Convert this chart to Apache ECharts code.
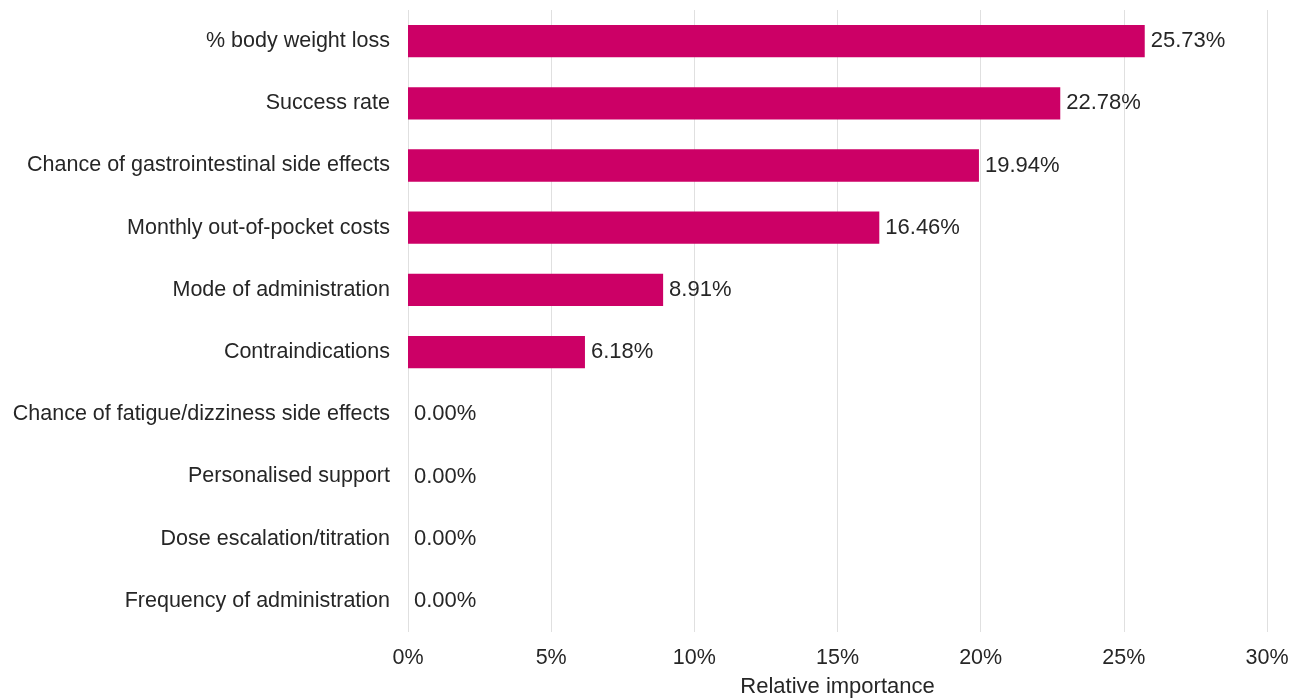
<!DOCTYPE html>
<html><head><meta charset="utf-8">
<script src="https://cdn.jsdelivr.net/npm/echarts@6/dist/echarts.min.js"></script>
<style>html,body{margin:0;padding:0;background:#fff}#c{width:1291px;height:698px}</style>
</head><body><div id="c"></div>
<script>
const categories = ["% body weight loss","Success rate","Chance of gastrointestinal side effects","Monthly out-of-pocket costs","Mode of administration","Contraindications","Chance of fatigue/dizziness side effects","Personalised support","Dose escalation/titration","Frequency of administration"];
const values = [25.73,22.78,19.94,16.46,8.91,6.18,0.00,0.00,0.00,0.00];
const xTicks = [0,5,10,15,20,25,30];
const FONT = "'Liberation Sans', Arial, sans-serif";
const chart = echarts.init(document.getElementById('c'));
chart.setOption({
  animation:false,
  grid:{left:408,right:24,top:10,bottom:66,containLabel:false,outerBoundsMode:'none'},
  xAxis:{type:'value',min:0,max:30,interval:5,
    name:'Relative importance',nameLocation:'middle',nameGap:44,
    nameTextStyle:{fontFamily:FONT,fontSize:22,color:'#262626'},
    axisLine:{show:false},axisTick:{show:false},
    axisLabel:{formatter:v=>xTicks.includes(v)?v+'%':'',fontFamily:FONT,fontSize:21.5,color:'#262626',margin:15},
    splitLine:{show:true,lineStyle:{color:'#e0e0e0',width:1}}},
  yAxis:{type:'category',data:categories,inverse:true,
    axisLine:{show:false},axisTick:{show:false},
    axisLabel:{fontFamily:FONT,fontSize:21.5,color:'#262626',margin:18},
    splitLine:{show:false}},
  series:[{type:'bar',data:values,barCategoryGap:'48%',
    itemStyle:{color:'#CC0066'},
    label:{show:true,position:'right',distance:6,formatter:p=>p.value.toFixed(2)+'%',
      fontFamily:FONT,fontSize:22,color:'#262626'}}]
});
</script></body></html>
